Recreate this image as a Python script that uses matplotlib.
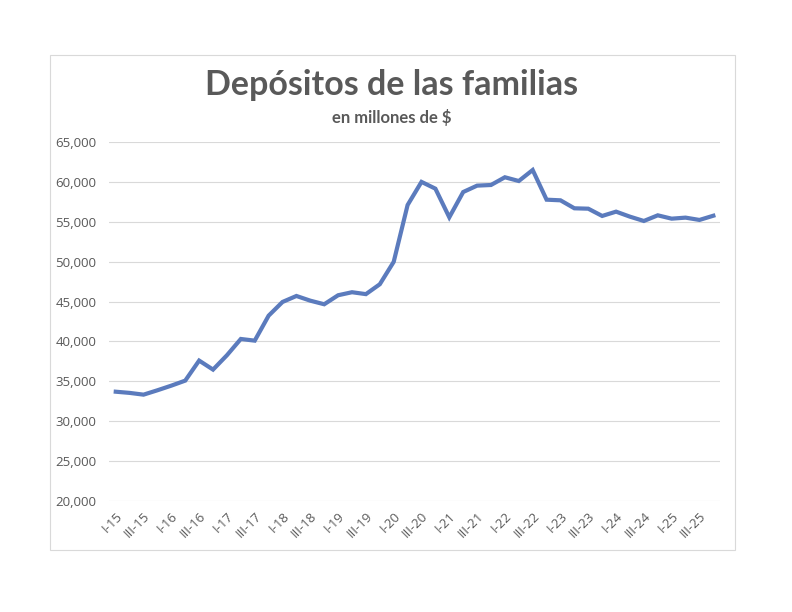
import matplotlib.pyplot as plt
from matplotlib.patches import Rectangle
from matplotlib.ticker import FuncFormatter

# Quarterly labels I-15 .. IV-25
romans = ['I', 'II', 'III', 'IV']
quarters = [f'{q}-{y}' for y in range(15, 26) for q in romans]

# Deposits (millions of $)
depositos = [
    33700, 33550, 33330, 33880, 34460, 35090, 37600, 36470,
    38270, 40310, 40100, 43230, 44950, 45700, 45110, 44660,
    45790, 46170, 45930, 47170, 49980, 57100, 60000, 59150,
    55560, 58730, 59530, 59610, 60580, 60110, 61490, 57770,
    57690, 56690, 56640, 55730, 56270, 55640, 55100, 55810,
    55390, 55520, 55230, 55760,
]

yticks = list(range(20000, 65001, 5000))

gray = '#595959'
plt.rcParams['font.family'] = ['Open Sans', 'DejaVu Sans']

fig = plt.figure(figsize=(7.92, 6.12), dpi=100)
# chart border
fig.patches.append(Rectangle((50 / 792, 1 - 550 / 612), 685 / 792, 495 / 612,
                             transform=fig.transFigure, fill=False,
                             edgecolor='#d9d9d9', linewidth=0.8))

ax = fig.add_axes([108.8 / 792, 1 - 501 / 612, 611.5 / 792, 359 / 612])
x = list(range(len(quarters)))
ax.plot(x, depositos, color='#5b7bbd', linewidth=3, solid_joinstyle='miter', zorder=3)

ax.set_xlim(-0.5, len(quarters) - 0.5)
ax.set_ylim(20000, 65000)
ax.set_yticks(yticks)
ax.yaxis.set_major_formatter(FuncFormatter(lambda v, p: f'{int(v):,}'))
ax.grid(axis='y', color='#d9d9d9', linewidth=0.8)
ax.set_axisbelow(True)

ax.set_xticks(x[::2])
ax.set_xticklabels(quarters[::2], rotation=45, ha='right', rotation_mode='anchor')
ax.tick_params(axis='both', length=0, labelsize=9.5, colors=gray)
ax.tick_params(axis='y', pad=9)
ax.tick_params(axis='x', pad=6)
for s in ax.spines.values():
    s.set_visible(False)

fig.text(392 / 792, 1 - 85 / 612, 'Depósitos de las familias', ha='center', va='center',
         fontsize=24.5, fontweight='bold', color=gray, family=['Lato', 'DejaVu Sans'])
fig.text(392 / 792, 1 - 118 / 612, 'en millones de $', ha='center', va='center',
         fontsize=12, fontweight='bold', color=gray, family=['Lato', 'DejaVu Sans'])

plt.savefig('out.png', dpi=100)
